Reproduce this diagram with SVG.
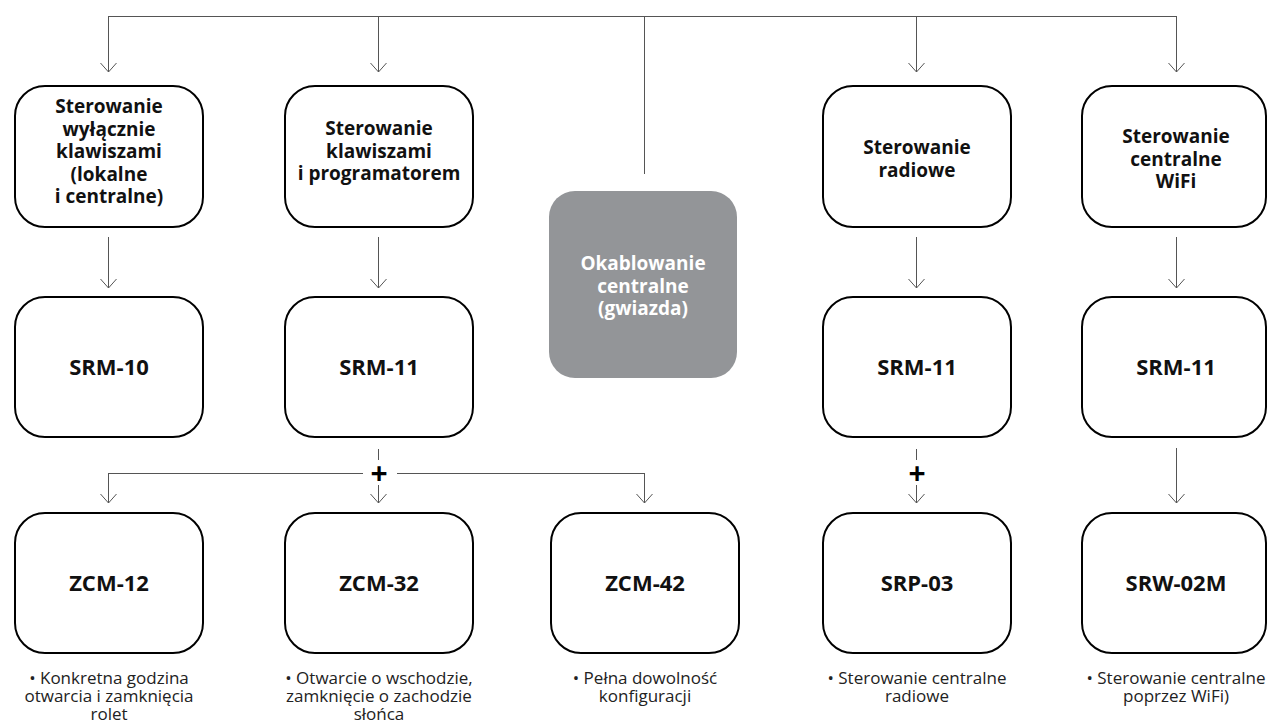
<svg xmlns="http://www.w3.org/2000/svg" width="1268" height="724" viewBox="0 0 1268 724">
<defs>
<marker id="arr" markerUnits="userSpaceOnUse" markerWidth="20" markerHeight="20" orient="auto" refX="0" refY="0" viewBox="-10 -10 20 20" overflow="visible">
<path d="M-9,-8 L0,0 L-9,8" fill="none" stroke="#555" stroke-width="1"/>
</marker>
</defs>
<style>
.box{fill:#fff;stroke:#000;stroke-width:2}
.gbox{fill:#939598;stroke:none}
.ln{fill:none;stroke:#555;stroke-width:1}
.ar{fill:none;stroke:#555;stroke-width:1;marker-end:url(#arr)}
.t{font-family:"Open Sans",sans-serif;font-weight:bold;font-size:19px;text-anchor:middle;fill:#111}
.tw{font-family:"Open Sans",sans-serif;font-weight:bold;font-size:19px;text-anchor:middle;fill:#fff}
.c{font-family:"Open Sans",sans-serif;font-weight:bold;font-size:22px;text-anchor:middle;fill:#111}
.d{font-family:"Open Sans",sans-serif;font-size:17px;text-anchor:middle;fill:#222}
.p{font-family:"Open Sans",sans-serif;font-weight:bold;font-size:30px;text-anchor:middle;fill:#000}
</style>
<g id="connectors">
<path class="ln" d="M108.5,16.5 H1176.5"/>
<path class="ar" d="M108.5,16 V72"/>
<path class="ar" d="M378.5,16 V72"/>
<path class="ln" d="M644.5,16 V174"/>
<path class="ar" d="M916.5,16 V72"/>
<path class="ar" d="M1176.5,16 V72"/>
<path class="ar" d="M108.5,237 V288"/>
<path class="ar" d="M378.5,237 V288"/>
<path class="ar" d="M916.5,237 V288"/>
<path class="ar" d="M1176.5,237 V288"/>
<path class="ln" d="M378.5,449 V460"/>
<path class="ln" d="M108.5,473.5 H363 M397,473.5 H644.5"/>
<path class="ar" d="M108.5,473 V503"/>
<path class="ar" d="M644.5,473 V503"/>
<path class="ar" d="M378.5,485 V503"/>
<text class="p" x="379" y="484">+</text>
<path class="ln" d="M916.5,449 V460"/>
<path class="ar" d="M916.5,485 V503"/>
<text class="p" x="917" y="484">+</text>
<path class="ar" d="M1176.5,448 V503"/>
</g>
<g id="n1">
<rect class="box" x="15" y="86" width="188" height="141" rx="30"/>
<text class="t" x="109" y="113">Sterowanie<tspan x="109" dy="22.5">wyłącznie</tspan><tspan x="109" dy="22.5">klawiszami</tspan><tspan x="109" dy="22.5">(lokalne</tspan><tspan x="109" dy="22.5">i centralne)</tspan></text>
</g>
<g id="n2">
<rect class="box" x="285" y="86" width="188" height="141" rx="30"/>
<text class="t" x="379" y="135">Sterowanie<tspan x="379" dy="22.5">klawiszami</tspan><tspan x="379" dy="22.5">i programatorem</tspan></text>
</g>
<g id="n3">
<rect class="gbox" x="549" y="191" width="188" height="187" rx="26"/>
<text class="tw" x="643" y="270">Okablowanie<tspan x="643" dy="22.5">centralne</tspan><tspan x="643" dy="22.5">(gwiazda)</tspan></text>
</g>
<g id="n4">
<rect class="box" x="823" y="86" width="188" height="141" rx="30"/>
<text class="t" x="917" y="154">Sterowanie<tspan x="917" dy="22.5">radiowe</tspan></text>
</g>
<g id="n5">
<rect class="box" x="1082" y="86" width="184" height="141" rx="30"/>
<text class="t" x="1176" y="143">Sterowanie<tspan x="1176" dy="22.5">centralne</tspan><tspan x="1176" dy="22.5">WiFi</tspan></text>
</g>
<g id="n6">
<rect class="box" x="15" y="297" width="188" height="140" rx="30"/>
<text class="c" x="109" y="375">SRM-10</text>
</g>
<g id="n7">
<rect class="box" x="285" y="297" width="188" height="140" rx="30"/>
<text class="c" x="379" y="375">SRM-11</text>
</g>
<g id="n8">
<rect class="box" x="823" y="297" width="188" height="140" rx="30"/>
<text class="c" x="917" y="375">SRM-11</text>
</g>
<g id="n9">
<rect class="box" x="1082" y="297" width="184" height="140" rx="30"/>
<text class="c" x="1176" y="375">SRM-11</text>
</g>
<g id="n10">
<rect class="box" x="15" y="513" width="188" height="140" rx="30"/>
<text class="c" x="109" y="591">ZCM-12</text>
<text class="d" x="109" y="684">• Konkretna godzina<tspan x="109" dy="18">otwarcia i zamknięcia</tspan><tspan x="109" dy="18">rolet</tspan></text>
</g>
<g id="n11">
<rect class="box" x="285" y="513" width="188" height="140" rx="30"/>
<text class="c" x="379" y="591">ZCM-32</text>
<text class="d" x="379" y="684">• Otwarcie o wschodzie,<tspan x="379" dy="18">zamknięcie o zachodzie</tspan><tspan x="379" dy="18">słońca</tspan></text>
</g>
<g id="n12">
<rect class="box" x="551" y="513" width="188" height="140" rx="30"/>
<text class="c" x="645" y="591">ZCM-42</text>
<text class="d" x="645" y="684">• Pełna dowolność<tspan x="645" dy="18">konfiguracji</tspan></text>
</g>
<g id="n13">
<rect class="box" x="823" y="513" width="188" height="140" rx="30"/>
<text class="c" x="917" y="591">SRP-03</text>
<text class="d" x="917" y="684">• Sterowanie centralne<tspan x="917" dy="18">radiowe</tspan></text>
</g>
<g id="n14">
<rect class="box" x="1082" y="513" width="184" height="140" rx="30"/>
<text class="c" x="1176" y="591">SRW-02M</text>
<text class="d" x="1176" y="684">• Sterowanie centralne<tspan x="1176" dy="18">poprzez WiFi)</tspan></text>
</g>
</svg>
